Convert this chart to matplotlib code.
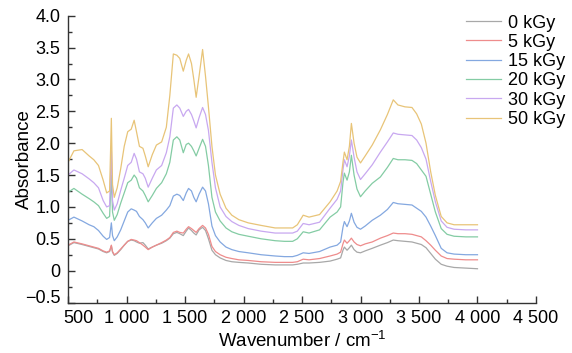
import matplotlib
matplotlib.use("Agg")
import matplotlib.pyplot as plt
from matplotlib.ticker import FixedLocator, FixedFormatter, MultipleLocator
from matplotlib.transforms import ScaledTranslation

# ---------------- data ----------------
wavenumber = [500, 550, 620, 680, 720, 760, 800, 830, 855, 870, 880, 895, 920, 950, 980,
              1010, 1040, 1065, 1085, 1110, 1140, 1160, 1185, 1220, 1255, 1300, 1340, 1370,
              1400, 1430, 1455, 1485, 1510, 1530, 1555, 1575, 1595, 1620, 1650, 1675, 1700,
              1730, 1760, 1800, 1850, 1900, 1960, 2040, 2150, 2270, 2350, 2420, 2460, 2510,
              2560, 2650, 2740, 2800, 2830, 2850, 2862, 2885, 2905, 2922, 2945, 2970, 3000,
              3040, 3100, 3170, 3230, 3280, 3320, 3380, 3440, 3480, 3520, 3560, 3600, 3640,
              3690, 3740, 3800, 3900, 4000]

abs_50 = [1.70, 1.88, 1.90, 1.80, 1.74, 1.65, 1.42, 1.22, 1.25, 2.39, 1.35, 1.15, 1.30, 1.60, 1.95,
          2.18, 2.22, 2.36, 2.18, 1.95, 1.92, 1.80, 1.63, 1.82, 1.97, 2.02, 2.25, 2.75,
          3.40, 3.38, 3.33, 3.13, 3.30, 3.40, 3.25, 3.00, 2.72, 3.05, 3.47, 3.05, 2.57,
          1.95, 1.50, 1.20, 0.98, 0.87, 0.80, 0.75, 0.71, 0.67, 0.67, 0.67, 0.72, 0.87,
          0.84, 0.88, 1.08, 1.25, 1.40, 1.70, 1.86, 1.74, 1.95, 2.31, 2.00, 1.78, 1.69,
          1.80, 1.97, 2.21, 2.45, 2.68, 2.60, 2.57, 2.56, 2.46, 2.30, 2.00, 1.55, 1.18,
          0.85, 0.75, 0.72, 0.72, 0.72]

abs_30 = [1.50, 1.58, 1.52, 1.44, 1.38, 1.30, 1.10, 1.00, 1.02, 1.89, 1.10, 0.95, 1.05, 1.26, 1.45,
          1.65, 1.70, 1.84, 1.75, 1.55, 1.52, 1.45, 1.31, 1.45, 1.58, 1.65, 1.85, 2.10,
          2.55, 2.60, 2.55, 2.42, 2.50, 2.53, 2.45, 2.35, 2.24, 2.40, 2.56, 2.45, 2.20,
          1.70, 1.30, 1.00, 0.85, 0.77, 0.71, 0.66, 0.62, 0.59, 0.59, 0.59, 0.62, 0.74,
          0.72, 0.76, 0.98, 1.12, 1.25, 1.58, 1.74, 1.63, 1.80, 2.05, 1.78, 1.55, 1.43,
          1.52, 1.66, 1.86, 2.02, 2.16, 2.14, 2.13, 2.12, 2.05, 1.93, 1.75, 1.40, 1.08,
          0.78, 0.68, 0.65, 0.64, 0.64]

abs_20 = [1.23, 1.29, 1.20, 1.13, 1.08, 1.02, 0.90, 0.82, 0.85, 1.50, 0.92, 0.79, 0.88, 1.06, 1.22,
          1.38, 1.42, 1.50, 1.45, 1.30, 1.25, 1.18, 1.08, 1.18, 1.29, 1.38, 1.52, 1.70,
          2.05, 2.10, 2.05, 1.85, 1.98, 2.00, 1.95, 1.88, 1.80, 1.92, 2.06, 1.95, 1.65,
          1.15, 0.92, 0.78, 0.67, 0.61, 0.57, 0.54, 0.50, 0.47, 0.46, 0.46, 0.50, 0.61,
          0.59, 0.64, 0.84, 0.92, 1.00, 1.38, 1.53, 1.42, 1.55, 1.81, 1.50, 1.28, 1.16,
          1.25, 1.37, 1.47, 1.62, 1.76, 1.74, 1.74, 1.73, 1.68, 1.58, 1.48, 1.20, 0.92,
          0.66, 0.57, 0.54, 0.53, 0.53]

abs_15 = [0.79, 0.84, 0.78, 0.72, 0.69, 0.63, 0.54, 0.49, 0.52, 0.75, 0.55, 0.47, 0.53, 0.64, 0.78,
          0.92, 0.97, 0.95, 0.93, 0.85, 0.80, 0.75, 0.67, 0.75, 0.82, 0.87, 0.95, 1.02,
          1.17, 1.20, 1.18, 1.10, 1.22, 1.29, 1.25, 1.15, 1.08, 1.20, 1.31, 1.25, 1.05,
          0.70, 0.55, 0.45, 0.37, 0.33, 0.30, 0.28, 0.25, 0.23, 0.22, 0.22, 0.24, 0.28,
          0.27, 0.30, 0.37, 0.40, 0.45, 0.68, 0.77, 0.69, 0.78, 0.90, 0.76, 0.68, 0.65,
          0.70, 0.79, 0.87, 0.96, 1.07, 1.05, 1.04, 1.03, 0.98, 0.93, 0.84, 0.70, 0.55,
          0.35, 0.28, 0.26, 0.25, 0.25]

abs_5 = [0.40, 0.45, 0.42, 0.39, 0.37, 0.35, 0.31, 0.29, 0.31, 0.40, 0.30, 0.25, 0.28, 0.34, 0.40,
         0.46, 0.49, 0.48, 0.47, 0.44, 0.40, 0.37, 0.33, 0.37, 0.40, 0.44, 0.48, 0.52,
         0.60, 0.62, 0.60, 0.59, 0.65, 0.69, 0.66, 0.63, 0.60, 0.66, 0.71, 0.67, 0.57,
         0.38, 0.30, 0.25, 0.21, 0.19, 0.17, 0.16, 0.14, 0.13, 0.13, 0.13, 0.14, 0.18,
         0.17, 0.19, 0.23, 0.26, 0.29, 0.42, 0.48, 0.43, 0.47, 0.51, 0.45, 0.41, 0.39,
         0.42, 0.45, 0.51, 0.55, 0.59, 0.58, 0.58, 0.57, 0.55, 0.53, 0.47, 0.40, 0.32,
         0.23, 0.19, 0.18, 0.17, 0.17]

abs_0 = [0.39, 0.44, 0.41, 0.38, 0.36, 0.34, 0.30, 0.28, 0.30, 0.39, 0.29, 0.24, 0.27, 0.33, 0.40,
         0.46, 0.48, 0.47, 0.45, 0.43, 0.44, 0.40, 0.34, 0.37, 0.40, 0.43, 0.47, 0.51,
         0.58, 0.60, 0.58, 0.55, 0.62, 0.67, 0.63, 0.59, 0.56, 0.64, 0.68, 0.63, 0.50,
         0.32, 0.25, 0.20, 0.16, 0.14, 0.13, 0.12, 0.10, 0.09, 0.09, 0.09, 0.10, 0.12,
         0.12, 0.13, 0.15, 0.18, 0.20, 0.32, 0.37, 0.32, 0.36, 0.40, 0.33, 0.29, 0.28,
         0.31, 0.35, 0.40, 0.44, 0.48, 0.47, 0.46, 0.45, 0.43, 0.41, 0.36, 0.27, 0.18,
         0.10, 0.07, 0.05, 0.04, 0.03]

series_labels = ["0 kGy", "5 kGy", "15 kGy", "20 kGy", "30 kGy", "50 kGy"]
series_values = [abs_0, abs_5, abs_15, abs_20, abs_30, abs_50]
series_colors = ["#a8a8a8", "#ee8c8c", "#84a8e0", "#84cca4", "#c8a8f0", "#e8c478"]

x_ticks = [500, 1000, 1500, 2000, 2500, 3000, 3500, 4000, 4500]
x_tick_labels = ["500", "1 000", "1 500", "2 000", "2 500", "3 000", "3 500", "4 000", "4 500"]
y_ticks = [-0.5, 0, 0.5, 1.0, 1.5, 2.0, 2.5, 3.0, 3.5, 4.0]
y_tick_labels = ["\u22120.5", "0", "0.5", "1.0", "1.5", "2.0", "2.5", "3.0", "3.5", "4.0"]

# ---------------- figure ----------------
plt.rcParams['font.family'] = ['Liberation Sans', 'DejaVu Sans']
plt.rcParams['mathtext.fontset'] = 'custom'
plt.rcParams['mathtext.rm'] = 'Liberation Sans'
plt.rcParams['mathtext.it'] = 'Liberation Sans'

fig = plt.figure(figsize=(5.72, 3.53), dpi=100)
ax = fig.add_axes([0.119, 0.143, 0.818, 0.8125])

for lab, vals, col in zip(series_labels, series_values, series_colors):
    ax.plot(wavenumber, vals, color=col, lw=0.9, label=lab)

ax.set_xlim(500, 4500)
ax.set_ylim(-0.5, 4.0)

ax.xaxis.set_major_locator(FixedLocator(x_ticks))
ax.xaxis.set_major_formatter(FixedFormatter(x_tick_labels))
ax.xaxis.set_minor_locator(MultipleLocator(250))
ax.yaxis.set_major_locator(FixedLocator(y_ticks))
ax.yaxis.set_major_formatter(FixedFormatter(y_tick_labels))
ax.yaxis.set_minor_locator(MultipleLocator(0.25))

ax.tick_params(which='both', direction='in', colors='#333333', labelcolor='black', width=1)
ax.tick_params(which='major', length=5, labelsize=13, pad=5.5)
ax.tick_params(which='minor', length=3)

for s in ['top', 'right']:
    ax.spines[s].set_visible(False)
for s in ['left', 'bottom']:
    ax.spines[s].set_color('#333333')
    ax.spines[s].set_linewidth(1.0)

ax.set_xlabel("Wavenumber / cm$^{\u22121}$", fontsize=13.5, labelpad=3)
ax.set_ylabel("Absorbance", fontsize=13.5)
ax.yaxis.set_label_coords(-0.074, 0.5)

fig.canvas.draw()
# nudge first x label right and bottom y label up, as in the reference
xl = ax.get_xticklabels()
xl[0].set_transform(xl[0].get_transform() + ScaledTranslation(10 / 100, 0, fig.dpi_scale_trans))
yl = ax.get_yticklabels()
yl[0].set_transform(yl[0].get_transform() + ScaledTranslation(0, 6 / 100, fig.dpi_scale_trans))

leg = ax.legend(loc='upper left', bbox_to_anchor=(0.851, 1.004), frameon=False,
                fontsize=13, handlelength=1.9, handletextpad=0.4, labelspacing=0.125,
                borderaxespad=0.0, borderpad=0.0)

fig.savefig("out.png", dpi=100)
